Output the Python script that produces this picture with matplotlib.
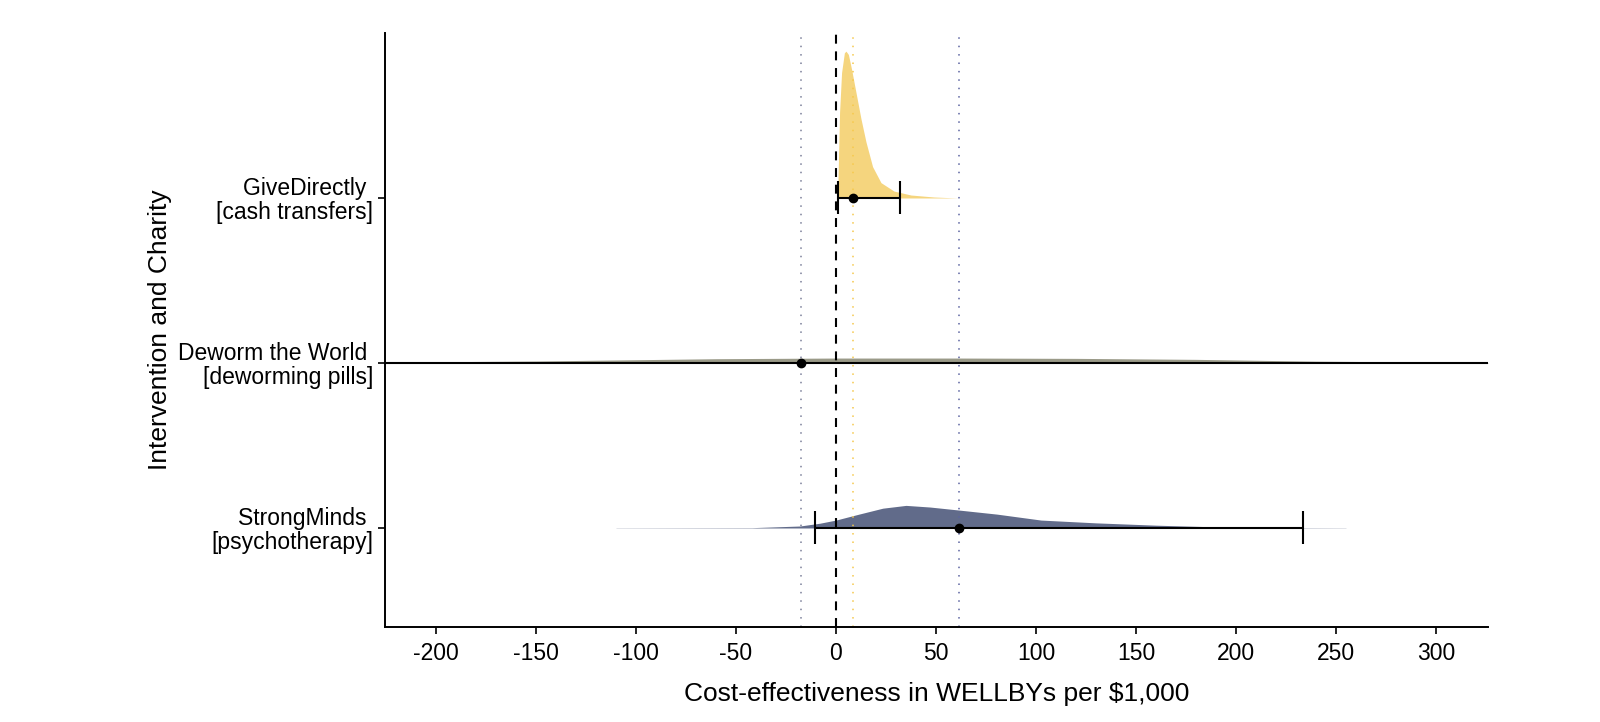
import numpy as np
import matplotlib
matplotlib.use("Agg")
import matplotlib.pyplot as plt

plt.rcParams['font.family'] = ['Liberation Sans', 'DejaVu Sans']
plt.rcParams['axes.unicode_minus'] = False

# categories, bottom to top
charities = ["StrongMinds \n[psychotherapy]",
             "Deworm the World \n[deworming pills]",
             "GiveDirectly \n[cash transfers]"]
fills = ["#616b8a", "#9a9a88", "#f5d57e"]
line_cols = ["#5b63a0", "#7a7f99", "#f5c84c"]

# point estimate and interval
means = [61.5, -17.5, 8.3]
lower = [-10.5, -420.0, 1.2]
upper = [233.5, 380.0, 31.8]

# density outlines: x values and heights (in category units)
gd_x = [0.8, 1.2, 1.8, 2.8, 4.2, 5.0, 6.2, 7.8, 10, 12.5, 15, 18.3, 22.5, 29, 37.5, 49, 61]
gd_h = [0.0, 0.21, 0.52, 0.76, 0.88, 0.89, 0.87, 0.78, 0.64, 0.48, 0.34, 0.19, 0.093, 0.042, 0.018, 0.006, 0.0]

dw_x = [-226, -150, -60, 0, 60, 120, 180, 240, 326]
dw_h = [0.005, 0.012, 0.026, 0.03, 0.03, 0.028, 0.022, 0.011, 0.003]

sm_x = [-110, -42, -18, -8, 0, 11.5, 23.4, 35, 47, 62, 80.5, 102.5, 130, 160, 189, 209, 235, 255]
sm_h = [0.001, 0.002, 0.012, 0.029, 0.048, 0.084, 0.12, 0.137, 0.127, 0.108, 0.084,
        0.048, 0.031, 0.017, 0.007, 0.003, 0.0015, 0.001]

dens_x = [sm_x, dw_x, gd_x]
dens_h = [sm_h, dw_h, gd_h]

fig = plt.figure(figsize=(16, 7.22), dpi=100)
ax = fig.add_axes([0.2406, 0.1316, 0.6894, 0.8227])

ypos = np.arange(1, len(charities) + 1)

for i, y in enumerate(ypos):
    ax.fill_between(dens_x[i], y, y + np.array(dens_h[i]), color=fills[i],
                    linewidth=0, zorder=1)

# reference lines
ax.axvline(0, color="black", lw=1.5, dashes=(4.3, 3.7), zorder=2)
for i in range(3):
    ax.axvline(means[i], color=line_cols[i], lw=1.1, dashes=(1, 4.5), zorder=2)

# intervals, caps and points
cap = 0.1
for i, y in enumerate(ypos):
    ax.hlines(y, lower[i], upper[i], color="black", lw=1.5, zorder=3)
    ax.vlines([lower[i], upper[i]], y - cap, y + cap, color="black", lw=1.5, zorder=3)
    ax.plot(means[i], y, "o", color="black", markersize=6, zorder=4)

ax.set_xlim(-225.5, 326)
ax.set_ylim(0.4, 4.0)
ax.set_xticks(np.arange(-200, 301, 50))
ax.set_yticks(ypos)
ax.set_yticklabels(charities, linespacing=1.02)

for s in ["top", "right"]:
    ax.spines[s].set_visible(False)
for s in ["left", "bottom"]:
    ax.spines[s].set_linewidth(1.4)
ax.tick_params(axis="both", length=5, width=1.2, labelsize=16.5, colors="black")
ax.tick_params(axis="x", pad=6)

ax.set_xlabel("Cost-effectiveness in WELLBYs per $1,000", fontsize=19, labelpad=12)
ax.set_ylabel("Intervention and Charity", fontsize=19)
ax.yaxis.set_label_coords(-0.193, 0.5)

fig.savefig("out.png", dpi=100)
